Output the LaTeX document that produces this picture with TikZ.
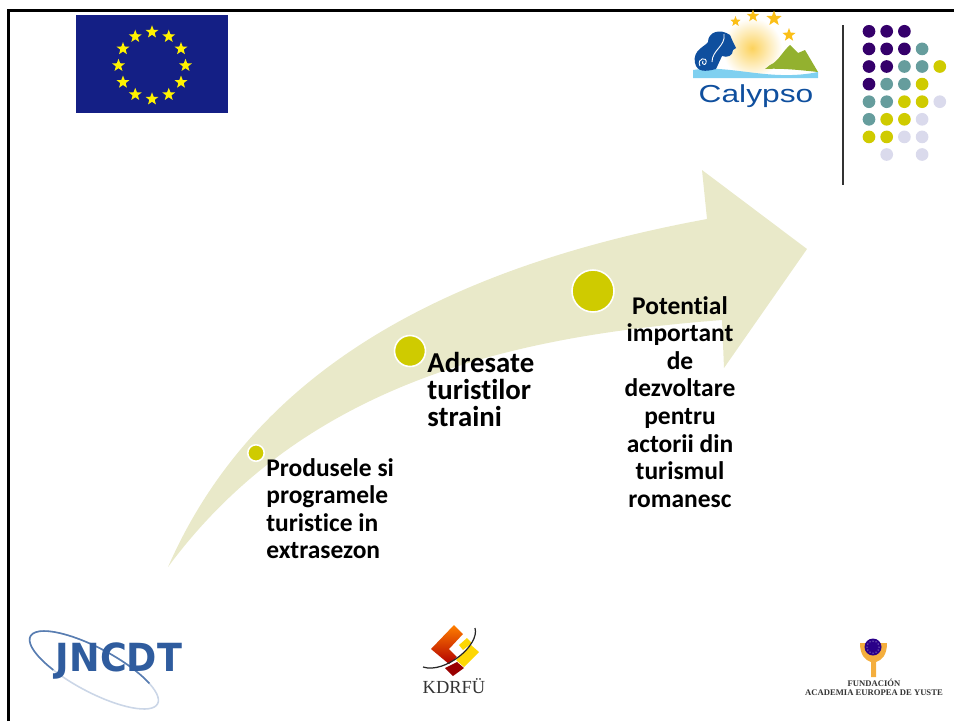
\documentclass[tikz,border=0pt]{standalone}
\usepackage{fontspec}
\setmainfont{Carlito}[Ligatures=NoCommon]
\usetikzlibrary{shapes.geometric,positioning}
\definecolor{flagblue}{HTML}{141F85}
\definecolor{flagstar}{HTML}{FFF200}
\definecolor{arrowfill}{HTML}{E9E9C9}
\definecolor{olive}{HTML}{CFCB00}
\definecolor{dotpurple}{HTML}{35006B}
\definecolor{dotteal}{HTML}{669D9D}
\definecolor{dotlilac}{HTML}{DADAEC}
\definecolor{calblue}{HTML}{0F4F9E}
\definecolor{calsky}{HTML}{7FD0F0}
\definecolor{calgreen}{HTML}{93B12F}
\definecolor{calstar}{HTML}{FBBF17}
\definecolor{jncblue}{HTML}{2F5C9E}
\definecolor{yusteorange}{HTML}{F4AE3D}
\tikzset{
  flagstarnode/.style={star,star points=5,star point ratio=2.4,fill=flagstar,inner sep=0pt,minimum size=2.7mm},
  calstarnode/.style={star,star points=5,star point ratio=2.4,fill=calstar,inner sep=0pt},
  griddot/.style={circle,fill=#1,inner sep=0pt,minimum size=2.54mm},
  bullet/.style={circle,fill=olive,draw=white,line width=0.9pt,inner sep=0pt},
  steptext/.style={align=#1,text=black,inner sep=0pt},
  logotext/.style={inner sep=0pt}
}
\begin{document}
\begin{tikzpicture}[x=0.02cm,y=-0.02cm]
\useasboundingbox (0,0) rectangle (954,721);

% slide frame
\draw[line width=1.7pt] (8.5,721) -- (8.5,10.5) -- (954,10.5);

% arrow
\fill[arrowfill] (168,567) .. controls (250,380) and (430,270) .. (707,219)
  -- (702,170) -- (807,249) -- (724,368) -- (722,320)
  .. controls (530,335) and (310,375) .. (168,567);

% flag
\node[fill=flagblue,minimum width=3.04cm,minimum height=1.96cm,inner sep=0pt] (flag) at (152,64) {};
\foreach \a in {0,30,...,330}
  \node[flagstarnode] (star\a) at (152+33.5*cos \a,65.5+33.5*sin \a) {};

% Calypso logo
\shade[inner color=calstar!70,outer color=white] (752,48) circle (30);
\fill[calgreen] (765,69) -- (770,65) .. controls (778,62) and (782,52) .. (790,45) -- (798,53) -- (805,50) -- (818,72) .. controls (800,70) and (780,68) .. (765,69) -- cycle;
\fill[calsky] (693,70) .. controls (730,64) and (770,82) .. (818,72) -- (818,78) -- (693,78) -- cycle;
\fill[calblue] (695,63) .. controls (692,50) and (706,46) .. (708,42) .. controls (708,32) and (720,28) .. (730,35) -- (733,42) -- (736,48) -- (733,50) .. controls (733,56) and (727,58) .. (722,56) -- (716,69) .. controls (705,72) and (697,72) .. (695,63) -- cycle;
\draw[white,line width=0.5pt] (700,66) .. controls (696,58) and (708,56) .. (706,63) .. controls (705,66) and (701,64) .. (703,61);
\draw[white,line width=0.5pt] (712,62) .. controls (712,50) and (726,46) .. (724,34);
\node[calstarnode,minimum size=2.2mm] (cstar1) at (735.5,21.5) {};
\node[calstarnode,minimum size=2.6mm] (cstar2) at (753,16) {};
\node[calstarnode,minimum size=3.2mm] (cstar3) at (774,18.5) {};
\node[calstarnode,minimum size=2.8mm] (cstar4) at (789,35) {};
\node[logotext,text=calblue,font=\fontspec{Liberation Sans}\fontsize{14pt}{15pt}\selectfont] (calypso) at (756,96.5) {\scalebox{1.29}[1]{Calypso}};

% divider
\draw[line width=0.7pt,black!80] (843,25) -- (843,185);

% dot grid
\foreach \r/\k in {0/0,0/1,0/2,1/0,1/1,1/2,2/0,2/1,3/0}
  \node[griddot=dotpurple] (pdot\r-\k) at (869+\k*17.7,31.3+\r*17.6) {};
\foreach \r/\k in {1/3,2/2,2/3,3/1,3/2,4/0,4/1,5/0}
  \node[griddot=dotteal] (tdot\r-\k) at (869+\k*17.7,31.3+\r*17.6) {};
\foreach \r/\k in {2/4,3/3,4/2,4/3,5/1,5/2,6/0,6/1}
  \node[griddot=olive] (odot\r-\k) at (869+\k*17.7,31.3+\r*17.6) {};
\foreach \r/\k in {4/4,5/3,6/2,6/3,7/1,7/3}
  \node[griddot=dotlilac] (ldot\r-\k) at (869+\k*17.7,31.3+\r*17.6) {};

% bullets
\node[bullet,minimum size=3.3mm] (bulletA) at (256,453) {};
\node[bullet,minimum size=6.2mm] (bulletB) at (410,351) {};
\node[bullet,minimum size=8.4mm] (bulletC) at (593,291) {};

% step texts
\node[steptext=left,anchor=north west,font=\bfseries\fontsize{14.5pt}{15.7pt}\selectfont] (textA) at (266,458) {Produsele si\\programele\\turistice in\\extrasezon};
\node[steptext=left,anchor=north west,font=\bfseries\fontsize{16.4pt}{15.3pt}\selectfont] (textB) at (427,352) {Adresate\\turistilor\\straini};
\node[steptext=center,anchor=north,font=\bfseries\fontsize{14.5pt}{15.7pt}\selectfont] (textC) at (680,296) {Potential\\important\\de\\dezvoltare\\pentru\\actorii din\\turismul\\romanesc};

% JNCDT logo
\draw[jncblue!25,line width=0.9pt,rotate around={-28:(94,670)}] (94,670) ellipse (72 and 22);
\draw[jncblue!80,line width=0.9pt,rotate around={-28:(94,670)}] plot[domain=120:320,smooth,samples=30] ({94+72*cos(\x)},{670+22*sin(\x)});
\node[logotext,text=jncblue,font=\fontspec{DejaVu Sans}\bfseries\fontsize{21pt}{22pt}\selectfont] (jncdt) at (119,661) {\scalebox{0.99}[1.05]{JNCDT}};

% KDRFU logo
\shade[top color=orange,bottom color=red!70!black] (454,625) -- (463,634) -- (449,649) -- (457,657) -- (449,664) -- (431,649) -- cycle;
\fill[red!60!black] (457,662) -- (464,668) -- (453,676) -- (445,668) -- cycle;
\fill[yellow!75!orange] (471,645) -- (479,652) -- (464,667) -- (456,660) -- cycle;
\fill[yellow!75!orange] (467,638) -- (472,643) -- (463,650) -- (459,645) -- cycle;
\draw[black!85,line width=0.7pt] (423,667) .. controls (445,674) and (480,645) .. (475,628);
\node[logotext,text=black!80,font=\fontspec{Liberation Serif}\fontsize{10.5pt}{11pt}\selectfont] (kdrfu) at (454,686) {KDRFÜ};

% Yuste logo
\fill[yusteorange] (860,643) -- (867,643) .. controls (867,655) and (878,657) .. (880,643) -- (887,643) .. controls (887,655) and (882,660) .. (876,662) -- (876,677) -- (871,677) -- (871,662) .. controls (865,660) and (860,655) .. (860,643) -- cycle;
\node[circle,fill=dotpurple!80!blue,inner sep=0pt,minimum size=3.4mm] (yustedisc) at (873,647) {};
\foreach \a in {0,30,...,330}
  \fill[white] (873+6*cos \a,647+6*sin \a) circle (0.5);
\node[logotext,text=black!80,align=center,font=\fontspec{Liberation Serif}\bfseries\fontsize{4.9pt}{5.4pt}\selectfont] (yuste) at (874,687.5) {FUNDACIÓN\\ACADEMIA EUROPEA DE YUSTE};
\end{tikzpicture}
\end{document}
